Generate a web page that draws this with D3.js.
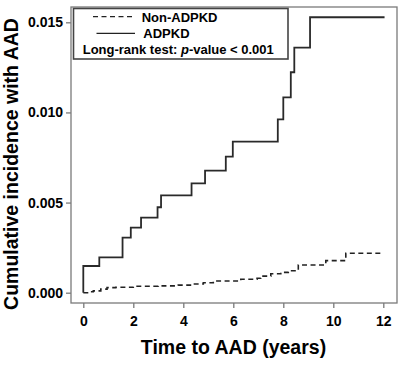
<!DOCTYPE html>
<html><head><meta charset="utf-8">
<script src="https://cdn.jsdelivr.net/npm/d3@7"></script>
<style>body{margin:0;background:#fff}svg{display:block}text{font-family:"Liberation Sans",Arial,Helvetica,sans-serif;font-weight:bold}</style>
</head><body><svg id="c" width="400" height="366"></svg>
<script>
const xTicks = [0, 2, 4, 6, 8, 10, 12];
const yTicks = [0, 0.005, 0.010, 0.015];
const adpkdTime = [0, 0, 0.64, 1.57, 1.9, 2.31, 2.97, 3.11, 4.33, 4.87, 5.70, 5.98, 7.78, 8.0, 8.3, 8.44, 9.07, 12.05];
const adpkdInc  = [0, 0.00148, 0.00196, 0.00305, 0.00361, 0.00416, 0.00474, 0.0054, 0.00607, 0.00677, 0.00755, 0.00838, 0.00962, 0.01084, 0.01223, 0.0136, 0.01528, 0.01528];
const nonTime = [0, 0.2, 0.4, 0.7, 0.95, 1.3, 2.0, 3.0, 3.8, 4.4, 4.8, 5.2, 6.3, 6.95, 7.1, 7.5, 7.9, 8.2, 8.6, 9.7, 10.5, 11.9];
const nonInc  = [0, 0.00005, 0.0001, 0.0002, 0.00028, 0.0003, 0.00036, 0.00038, 0.00042, 0.00048, 0.00055, 0.00065, 0.00075, 0.0008, 0.00092, 0.00105, 0.00113, 0.00122, 0.00154, 0.00178, 0.00219, 0.00219];
const seriesNames = ["Non-ADPKD", "ADPKD"];

const svg = d3.select("#c");
const x = d3.scaleLinear().domain([0, 12]).range([83.3, 383.3]);
const y = d3.scaleLinear().domain([0, 0.015]).range([292.7, 22.3]);
const frame = {l: 71, r: 397, t: 7, b: 303};
const axisCol = "#7a7a7a";

svg.append("rect").attr("x", frame.l).attr("y", frame.t)
  .attr("width", frame.r - frame.l).attr("height", frame.b - frame.t)
  .attr("fill", "none").attr("stroke", axisCol).attr("stroke-width", 1.3);

const xa = svg.append("g").attr("transform", `translate(0,${frame.b})`)
  .call(d3.axisBottom(x).tickValues(xTicks).tickFormat(d3.format("d")).tickSize(5).tickPadding(8));
const ya = svg.append("g").attr("transform", `translate(${frame.l},0)`)
  .call(d3.axisLeft(y).tickValues(yTicks).tickFormat(d3.format(".3f")).tickSize(5).tickPadding(3));
[xa, ya].forEach(a => {
  a.select(".domain").remove();
  a.selectAll("line").attr("stroke", axisCol).attr("stroke-width", 1.3);
  a.selectAll("text").attr("fill", "#000").style("font-size", "14px").style("font-weight", "bold")
   .style("font-family", '"Liberation Sans", Arial, sans-serif');
});

const line = d3.line().x(d => x(d[0])).y(d => y(d[1])).curve(d3.curveStepAfter);
const nonData = nonTime.map((t, i) => [t, nonInc[i]]);
const adData = adpkdTime.map((t, i) => [t, adpkdInc[i]]);

svg.append("path").attr("d", line(nonData)).attr("fill", "none")
  .attr("stroke", "#222").attr("stroke-width", 1.6).attr("stroke-dasharray", "5,3.5");
svg.append("path").attr("d", line(adData)).attr("fill", "none")
  .attr("stroke", "#2a2a2a").attr("stroke-width", 1.8);

// legend
const lg = svg.append("g");
lg.append("rect").attr("x", 73.5).attr("y", 8.5).attr("width", 214.5).attr("height", 50.5)
  .attr("fill", "#fff").attr("stroke", "#444").attr("stroke-width", 1.6);
lg.append("line").attr("x1", 93).attr("x2", 135).attr("y1", 16.7).attr("y2", 16.7)
  .attr("stroke", "#222").attr("stroke-width", 1.3).attr("stroke-dasharray", "5,3.5");
lg.append("line").attr("x1", 96.5).attr("x2", 135).attr("y1", 33.3).attr("y2", 33.3)
  .attr("stroke", "#222").attr("stroke-width", 1.3);
lg.append("text").attr("x", 141.7).attr("y", 21.5).style("font-size", "13px").text(seriesNames[0]);
lg.append("text").attr("x", 143.3).attr("y", 38).style("font-size", "13px").text(seriesNames[1]);
const lt = lg.append("text").attr("x", 82.7).attr("y", 54).style("font-size", "13px");
lt.append("tspan").text("Long-rank test: ");
lt.append("tspan").style("font-style", "italic").text("p");
lt.append("tspan").text("-value < 0.001");

svg.append("text").attr("x", 233.5).attr("y", 353.5).attr("text-anchor", "middle")
  .style("font-size", "19.5px").text("Time to AAD (years)");
svg.append("text").attr("transform", "translate(18,164) rotate(-90)").attr("text-anchor", "middle")
  .style("font-size", "19.5px").text("Cumulative incidence with AAD");
</script></body></html>
